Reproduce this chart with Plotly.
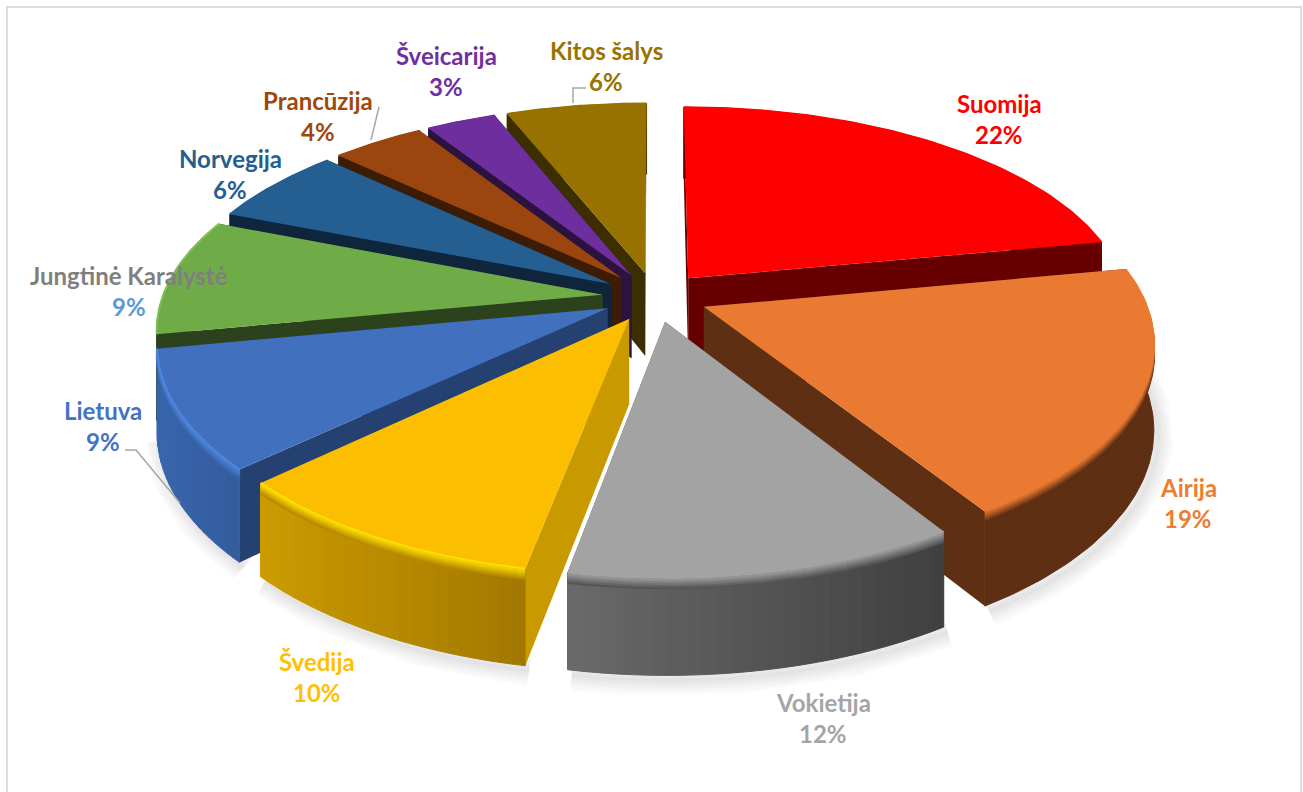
import numpy as np
import plotly.graph_objects as go

# ---- data ----
categories = ["Suomija", "Airija", "Vokietija", "Švedija", "Lietuva",
              "Jungtinė Karalystė", "Norvegija", "Prancūzija", "Šveicarija", "Kitos šalys"]
shares = [22, 19, 12, 10, 9, 9, 6, 4, 3, 6]

# ---- styles ----
top_colors = ["#ff0000", "#ea7a32", "#a3a3a3", "#fbbe00", "#4170bf",
              "#6fac47", "#255e91", "#9b460e", "#6d2e9e", "#977200"]
side_colors = ["#660000", "#5e2f13", "#5a5a5a", "#c99a00", "#254172",
               "#2c421d", "#0e253c", "#3d1c05", "#2c123f", "#3c2e00"]
wall_left = ["#660000", "#5e2f13", "#6a6a6a", "#cc9c00", "#3a66ae",
             "#2c421d", "#0e253c", "#3d1c05", "#2c123f", "#3c2e00"]
wall_right = ["#660000", "#5e2f13", "#404040", "#a27800", "#345c9e",
              "#2c421d", "#0e253c", "#3d1c05", "#2c123f", "#3c2e00"]
rim_colors = ["#ff0000", "#ea7a32", "#a3a3a3", "#ffe000", "#4d86dc",
              "#7cc04f", "#255e91", "#9b460e", "#6d2e9e", "#977200"]
label_colors = ["#ff0000", "#ed7d31", "#a5a5a5", "#ffc000", "#4472c4",
                "#7f7f7f", "#255e91", "#9e480e", "#7030a0", "#997300"]
pct_colors = list(label_colors)
pct_colors[5] = "#5b9bd5"
label_pos = {"Suomija": (999, 103), "Airija": (1188, 487), "Vokietija": (823, 702),
             "Švedija": (317, 661), "Lietuva": (103, 410), "Jungtinė Karalystė": (129, 275),
             "Norvegija": (230, 158), "Prancūzija": (318, 100), "Šveicarija": (446, 55),
             "Kitos šalys": (606, 50)}
draw_order = [9, 8, 7, 6, 0, 5, 4, 1, 3, 2]
shadow_slices = [1, 2, 3, 4]
bevel_slices = [1, 2, 3, 4]

# projection settings
CX, CY, RX, RY, KX, KY, PULL = 655, 297, 440, 205, 0.155, 0.165, 0.12
FONT = "Lato"
BANDS = 24


def project(x, y):
    return CX + RX * x / (1 + KX * y), CY - RY * y / (1 + KY * y)


def depth(y):
    return 84 - 12 * y


def hex2rgb(c):
    return np.array([int(c[i:i + 2], 16) for i in (1, 3, 5)], float)


def mix(a, b, t):
    v = hex2rgb(a) * (1 - t) + hex2rgb(b) * t
    return "#%02x%02x%02x" % tuple(int(c) for c in v)


def poly(x, y, fill, line=None, width=0):
    return go.Scatter(x=list(x) + [x[0]], y=list(y) + [y[0]], mode="lines", fill="toself",
                      fillcolor=fill, line=dict(color=line or fill, width=width),
                      hoverinfo="skip", showlegend=False)


def curve(x, y, color, width):
    return go.Scatter(x=x, y=y, mode="lines", line=dict(color=color, width=width),
                      hoverinfo="skip", showlegend=False)


fig = go.Figure()
edges = np.cumsum([0] + shares) / sum(shares) * 2 * np.pi


def slice_geometry(i, n=73):
    a = np.linspace(edges[i], edges[i + 1], n)
    mid = (edges[i] + edges[i + 1]) / 2
    ox, oy = PULL * np.sin(mid), PULL * np.cos(mid)
    return ox + np.sin(a), oy + np.cos(a), ox, oy


# soft shadows below the front slices
for i in shadow_slices:
    wx, wy, ox, oy = slice_geometry(i)
    sx, sy = project(wx, wy)
    for w in (32, 27, 22, 17, 12, 7, 3):
        fig.add_trace(curve(sx + 4, sy + depth(wy) + 5, "rgba(0,0,0,0.016)", w))

for i in draw_order:
    wx, wy, ox, oy = slice_geometry(i)
    sx, sy = project(wx, wy)
    ax, ay = project(ox, oy)
    ah, eh = depth(oy), depth(wy)
    # radial walls
    for k in (0, -1):
        fig.add_trace(poly([ax, sx[k], sx[k], ax], [ay, sy[k], sy[k] + eh[k], ay + ah], side_colors[i]))
    # outer wall, shaded in bands from left to right
    bands = BANDS if wall_left[i] != wall_right[i] else 1
    cuts = np.linspace(0, len(sx) - 1, bands + 1).astype(int)
    for b in range(bands):
        s = slice(cuts[b], cuts[b + 1] + 1)
        bx, by, bh = sx[s], sy[s], eh[s]
        t = (bx.mean() - sx.min()) / (sx.max() - sx.min())
        col = mix(wall_left[i], wall_right[i], t)
        fig.add_trace(poly([*bx, *bx[::-1]], [*by, *(by + bh)[::-1]], col, col, 1))
    # bevel on the upper part of the outer wall
    if i in bevel_slices:
        for off in range(10, 0, -2):
            t = off / 10
            mid_col = mix(wall_left[i], wall_right[i], 0.5)
            fig.add_trace(curve(sx, sy + off, mix(rim_colors[i], mid_col, t), 2.5))
    # top face
    fig.add_trace(poly([ax, *sx], [ay, *sy], top_colors[i]))
    fig.add_trace(curve(sx, sy, rim_colors[i], 2))

# labels
for name, share, lc, pc in zip(categories, shares, label_colors, pct_colors):
    lx, ly = label_pos[name]
    fig.add_annotation(x=lx, y=ly, text=f"<b>{name}</b>", showarrow=False, font=dict(family=FONT, size=24, color=lc))
    fig.add_annotation(x=lx, y=ly + 31, text=f"<b>{share}%</b>", showarrow=False, font=dict(family=FONT, size=24, color=pc))

leader = dict(color="#a6a6a6", width=1.5)
shapes = [
    dict(type="rect", x0=7, y0=7, x1=1301, y1=800, line=dict(color="#dcdcdc", width=2), layer="below"),
    dict(type="path", path="M125,450 L136,450 L180,503", line=leader),
    dict(type="path", path="M379,107 L371,140", line=leader),
    dict(type="path", path="M586,88 L573,88 L573,103", line=leader),
]
fig.update_layout(
    width=1303, height=792, margin=dict(l=0, r=0, t=0, b=0), paper_bgcolor="white", plot_bgcolor="white",
    showlegend=False, shapes=shapes,
    xaxis=dict(range=[0, 1303], visible=False, fixedrange=True),
    yaxis=dict(range=[792, 0], visible=False, fixedrange=True),
)
fig.write_html("out.html", config={"displayModeBar": False},
               post_script="document.body.style.margin='0';document.body.style.overflow='hidden';")
